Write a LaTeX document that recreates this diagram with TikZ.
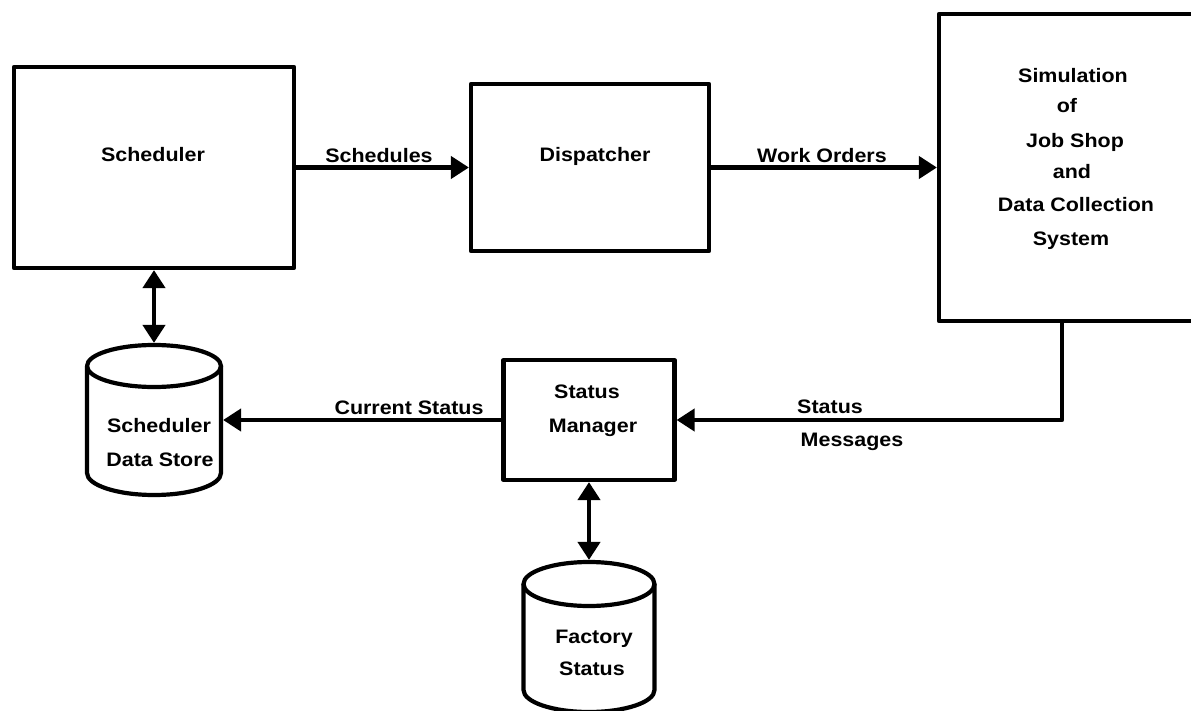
\documentclass[tikz,border=0pt]{standalone}
\usepackage{fontspec}
\setmainfont{Liberation Sans}[FakeStretch=1.1]
\usetikzlibrary{arrows.meta}
\begin{document}
\begin{tikzpicture}[x=1pt,y=-1pt,
  line width=4.2pt, line join=round,
  box/.style={draw, inner sep=0pt, rectangle},
  anchorbox/.style={inner sep=0pt, rectangle},
  txt/.style={anchor=base, inner sep=0pt, font=\fontsize{19.5}{23}\selectfont\bfseries},
  arr/.style={-{Triangle[length=18pt,width=22pt]}},
  darr/.style={{Triangle[length=18pt,width=22pt]}-{Triangle[length=18pt,width=22pt]}},
]
\useasboundingbox (0,0) rectangle (1191,711);
\clip (0,0) rectangle (1191,711);

% process boxes
\node[box, minimum width=280pt, minimum height=201pt] (sched) at (154,167.5) {};
\node[box, minimum width=238pt, minimum height=167pt] (disp) at (590,167.5) {};
\node[box, minimum width=282pt, minimum height=307pt] (sim) at (1080,167.5) {};
\node[box, minimum width=171pt, minimum height=120pt] (mgr) at (589,420) {};

% data stores (cylinders)
\node[anchorbox, minimum width=134pt, minimum height=150pt] (sds) at (154,420) {};
\draw (154,366) ellipse [x radius=67, y radius=21];
\draw (87,366) -- (87,473) arc[start angle=180, end angle=0, x radius=67, y radius=22] -- (221,366);

\node[anchorbox, minimum width=131pt, minimum height=150pt] (fs) at (589,637) {};
\draw (589,584) ellipse [x radius=65.5, y radius=22];
\draw (523.5,584) -- (523.5,690) arc[start angle=180, end angle=0, x radius=65.5, y radius=22] -- (654.5,584);

% box texts
\node[txt] (tsched) at (153,162) {Scheduler};
\node[txt] (tdisp) at (595,162) {Dispatcher};
\node[txt] (ts1) at (1073,83) {Simulation};
\node[txt] (ts2) at (1067,113) {of};
\node[txt] (ts3) at (1075,148) {Job Shop};
\node[txt] (ts4) at (1072,179) {and};
\node[txt] (ts5) at (1076,212) {Data Collection};
\node[txt] (ts6) at (1071,246) {System};
\node[txt] (tm1) at (587,398) {Status};
\node[txt] (tm2) at (593,432) {Manager};
\node[txt] (tsd1) at (159,432) {Scheduler};
\node[txt] (tsd2) at (160,466) {Data Store};
\node[txt] (tfs1) at (594,643) {Factory};
\node[txt] (tfs2) at (592,675) {Status};

% connectors
\coordinate (tap) at (1062,0);
\draw[arr] (sched.east) -- (disp.west);
\draw[arr] (disp.east) -- (sim.west);
\draw[arr] (sim.south -| tap) |- (mgr.east);
\draw[arr] (mgr.west) -- (sds.east);
\draw[darr] (sched.south) -- (sds.north);
\draw[darr] (mgr.south) -- (fs.north);

% connector labels
\node[txt] (lsch) at (379,163) {Schedules};
\node[txt] (lwo) at (822,163) {Work Orders};
\node[txt] (lcs) at (409,414) {Current Status};
\node[txt] (lsm1) at (830,413) {Status};
\node[txt] (lsm2) at (852,446) {Messages};
\end{tikzpicture}
\end{document}
